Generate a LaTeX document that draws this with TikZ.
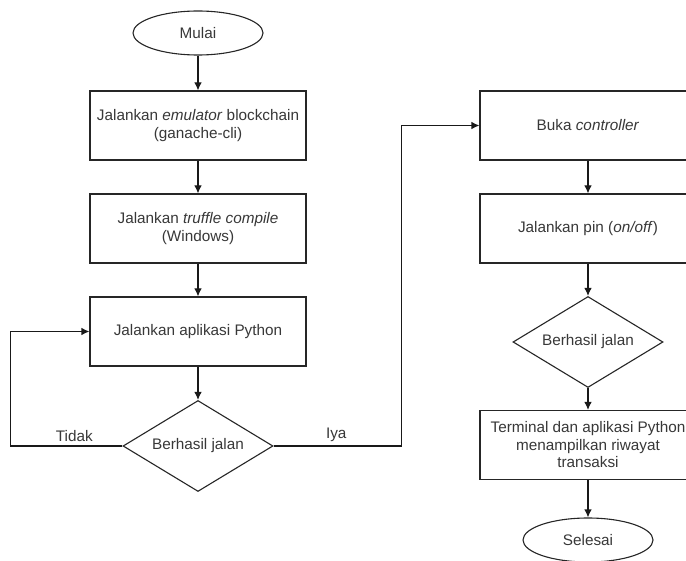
\documentclass[tikz,border=0pt]{standalone}
\usepackage{fontspec}
\setmainfont{Liberation Sans}
\usetikzlibrary{arrows,arrows.meta,shapes,calc}

\begin{document}
\begin{tikzpicture}[x=1pt, y=1pt]
\tikzstyle{main}=[ellipse, line width=1.1pt, draw=black!85, text=black!78, node distance=103pt, minimum height=44pt, minimum width=130pt, inner sep=0pt, align=center, font=\fontsize{15.3}{17.5}\selectfont]
\tikzstyle{rect}=[main, rectangle, minimum width=216pt, minimum height=69pt]
\tikzstyle{cond}=[main, diamond, aspect=1.65, minimum width=150pt, minimum height=91pt]
\tikzstyle{connect}=[-{Latex[length=8pt, width=7.5pt]}, line width=1.1pt, draw=black!90]
\tikzstyle{lbl}=[text=black!78, font=\fontsize{15.3}{17.5}\selectfont]

  \path[use as bounding box, fill=white] (0,0) rectangle (686,-561);
  \clip (0,0) rectangle (686,-561);

  % kolom kiri
  \node[main] (mulai)   at (198,-33)                  {Mulai};
  \node[rect] (emulator) [below of =mulai, yshift=10.5] {Jalankan \textit{emulator} blockchain\\(ganache-cli)};
  \node[rect] (truffle) [below of =emulator]          {Jalankan \textit{truffle compile}\\(Windows)};
  \node[rect] (python)  [below of =truffle]           {Jalankan aplikasi Python};
  \node[cond] (cek)     [below of =python, yshift=-11.5] {Berhasil jalan};

  % kolom kanan
  \node[rect] (buka)     [right of =emulator, xshift=287] {Buka \textit{controller}};
  \node[rect] (pin)      [below of =buka]                 {Jalankan pin (\textit{on/off})};
  \node[cond] (cekpin)   [below of =pin, yshift=-10.5]    {Berhasil jalan};
  \node[rect] (riwayat)  [below of =cekpin]               {Terminal dan aplikasi Python\\menampilkan riwayat\\transaksi};
  \node[main] (selesai)  [below of =riwayat, yshift=8]    {Selesai};

  \path (mulai) edge [connect] (emulator);
  \path (emulator) edge [connect] (truffle);
  \path (truffle) edge [connect] (python);
  \path (python) edge [connect] (cek);

  \draw[connect] (cek.west) -- node [pos=0.43, above, lbl] {Tidak} ++(-112,0) |- (python.west);
  \draw[connect] (cek.east) -- node [pos=0.49, above, lbl] {Iya} ++(128,0) |- (buka.west);

  \path (buka) edge [connect] (pin);
  \path (pin) edge [connect] (cekpin);
  \path (cekpin) edge [connect] (riwayat);
  \path (riwayat) edge [connect] (selesai);

\end{tikzpicture}
\end{document}
